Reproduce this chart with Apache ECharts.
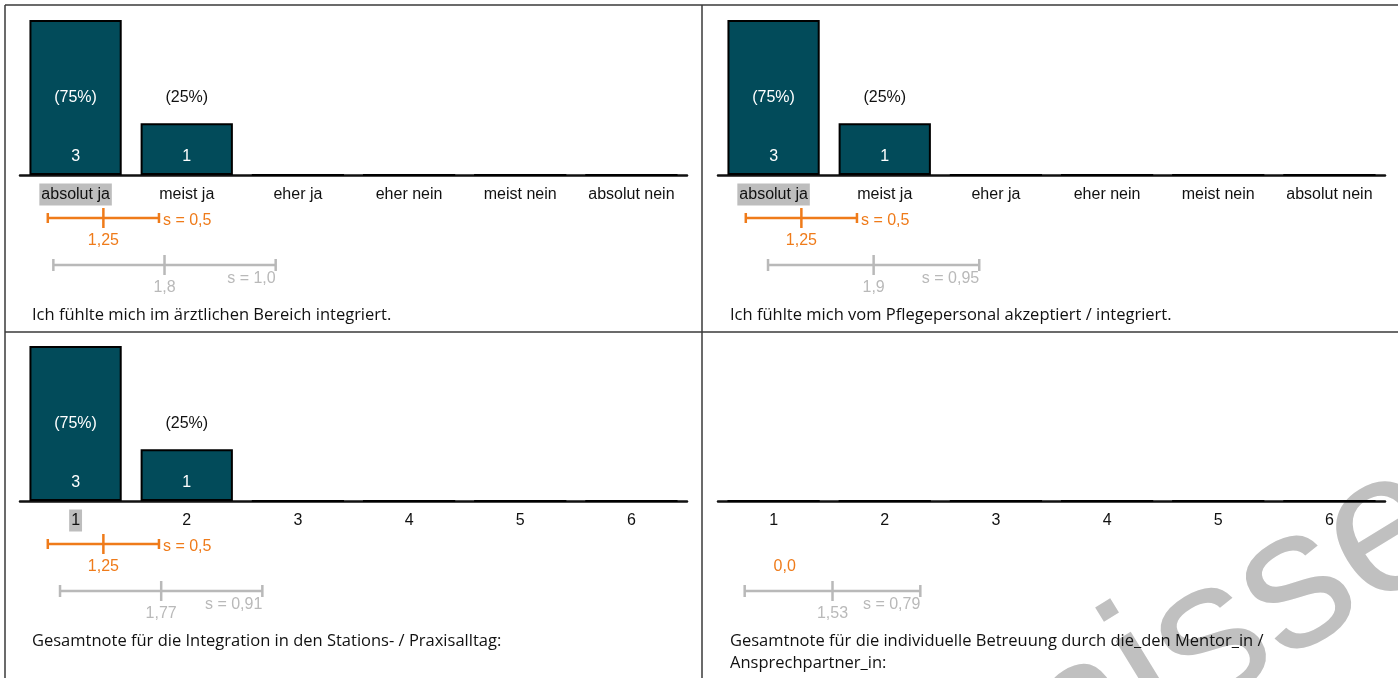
<!DOCTYPE html>
<html><head><meta charset="utf-8">
<script src="https://cdn.jsdelivr.net/npm/echarts@6/dist/echarts.min.js"></script>
<style>html,body{margin:0;padding:0;background:#fff}#c{width:1398px;height:678px}</style>
</head><body><div id="c"></div>
<script>
// ---- data ----
const answerCategories = ['absolut ja', 'meist ja', 'eher ja', 'eher nein', 'meist nein', 'absolut nein'];
const gradeCategories = ['1', '2', '3', '4', '5', '6'];
const countsArzt = [3, 1, 0, 0, 0, 0];
const countsPflege = [3, 1, 0, 0, 0, 0];
const countsIntegration = [3, 1, 0, 0, 0, 0];
const countsBetreuung = [0, 0, 0, 0, 0, 0];
const ownMeans = [1.25, 1.25, 1.25, 0.0];
const ownSds = [0.5, 0.5, 0.5, null];
const refMeans = [1.8, 1.9, 1.77, 1.53];
const refSds = [1.0, 0.95, 0.91, 0.79];
const questions = [
  'Ich fühlte mich im ärztlichen Bereich integriert.',
  'Ich fühlte mich vom Pflegepersonal akzeptiert / integriert.',
  'Gesamtnote für die Integration in den Stations- / Praxisalltag:',
  'Gesamtnote für die individuelle Betreuung durch die_den Mentor_in /\nAnsprechpartner_in:'
];
const watermarkText = 'Ergebnisse';

// ---- styling / layout ----
const panelCounts = [countsArzt, countsPflege, countsIntegration, countsBetreuung];
const panelCats = [answerCategories, answerCategories, gradeCategories, gradeCategories];
const offX = [0, 698, 0, 698];
const offY = [0, 0, 326, 326];
const BAR = '#024b5a', ORANGE = '#ef7b1a', GREY = '#b9b9b9';
const FONT = '"Liberation Sans", Arial, sans-serif';
const QFONT = '"Open Sans", "Noto Sans", sans-serif';
const FS = 16;
const YMAX = 3;

function fmt(v) {
  const r = Math.round(v * 10) === v * 10 ? v.toFixed(1) : v.toFixed(2);
  return r.replace('.', ',');
}

const grids = [], xAxes = [], yAxes = [], series = [], graphics = [];

for (let p = 0; p < 4; p++) {
  const counts = panelCounts[p];
  const total = counts.reduce((a, b) => a + b, 0);
  let hl = -1, best = 0;
  counts.forEach((c, i) => { if (c > best) { best = c; hl = i; } });

  grids.push({ left: 20 + offX[p], width: 667, top: 20 + offY[p], height: 155 });
  xAxes.push({
    type: 'category', gridIndex: p, data: panelCats[p],
    axisLine: { lineStyle: { color: '#111', width: 2.5 } },
    axisTick: { inside: true, length: 4, alignWithLabel: true, lineStyle: { color: '#000', width: 2 } },
    axisLabel: {
      margin: 10, interval: 0, color: '#111', fontFamily: FONT, fontSize: FS,
      formatter: (v, i) => (i === hl ? '{h|' + v + '}' : '{n|' + v + '}'),
      rich: {
        h: { backgroundColor: '#bdbdbd', padding: [3, 2, 3, 2], fontSize: FS, fontFamily: FONT, color: '#111', lineHeight: 19 },
        n: { padding: [3, 2, 3, 2], fontSize: FS, fontFamily: FONT, color: '#111', lineHeight: 19 }
      }
    },
    splitLine: { show: false }
  });
  xAxes.push({ type: 'value', gridIndex: p, min: 0.5, max: 6.5, show: false });
  yAxes.push({ type: 'value', gridIndex: p, min: 0, max: YMAX, show: false });

  const xCat = 2 * p, xVal = 2 * p + 1;
  series.push({
    type: 'bar', xAxisIndex: xCat, yAxisIndex: p, data: counts, barWidth: '83%', z: 2,
    itemStyle: { color: BAR, borderColor: '#000', borderWidth: 2 },
    label: {
      show: true, position: 'insideBottom', distance: 10, color: '#fff', fontSize: FS, fontFamily: FONT,
      formatter: (d) => (d.value > 0 ? String(d.value) : '')
    },
    silent: true, animation: false
  });
  series.push({
    type: 'custom', xAxisIndex: xCat, yAxisIndex: p, clip: false, animation: false, silent: true, z: 10,
    data: counts.map((c, i) => [i, c]),
    renderItem: (params, api) => {
      const i = api.value(0), c = api.value(1);
      if (!c) return null;
      const pt = api.coord([i, YMAX / 2]);
      return {
        type: 'text', x: pt[0], y: pt[1], z2: 10,
        style: {
          text: '(' + Math.round(c / total * 100) + '%)', fill: c > YMAX / 2 ? '#fff' : '#111',
          font: FS + 'px ' + FONT, textAlign: 'center', textVerticalAlign: 'middle'
        }
      };
    }
  });
  series.push({
    type: 'custom', xAxisIndex: xVal, yAxisIndex: p, clip: false, animation: false, silent: true, z: 10,
    data: [[ownMeans[p], ownSds[p] == null ? -1 : ownSds[p], 0], [refMeans[p], refSds[p], 1]],
    renderItem: (params, api) => {
      const m = api.value(0), s = api.value(1), row = api.value(2);
      const col = row === 0 ? ORANGE : GREY;
      const base = api.coord([1, 0]);
      const y = base[1] + (row === 0 ? 43 : 90);
      const lw = 2.5;
      if (s < 0) {
        return {
          type: 'text', x: base[0], y: y + 23,
          style: { text: fmt(m), fill: col, font: FS + 'px ' + FONT, textAlign: 'left', textVerticalAlign: 'middle' }
        };
      }
      const xl = api.coord([m - s, 0])[0], xr = api.coord([m + s, 0])[0], xm = api.coord([m, 0])[0];
      const cap = row === 0 ? 5 : 6;
      const ls = { stroke: col, lineWidth: lw };
      const ch = [
        { type: 'line', shape: { x1: xl, y1: y, x2: xr, y2: y }, style: ls },
        { type: 'line', shape: { x1: xl, y1: y - cap, x2: xl, y2: y + cap }, style: ls },
        { type: 'line', shape: { x1: xr, y1: y - cap, x2: xr, y2: y + cap }, style: ls },
        { type: 'line', shape: { x1: xm, y1: y - 10, x2: xm, y2: y + 10 }, style: ls },
        { type: 'text', x: xm, y: y + 23, style: { text: fmt(m), fill: col, font: FS + 'px ' + FONT, textAlign: 'center', textVerticalAlign: 'middle' } }
      ];
      if (row === 0) {
        ch.push({ type: 'text', x: xr + 4, y: y + 3, style: { text: 's = ' + fmt(s), fill: col, font: FS + 'px ' + FONT, textAlign: 'left', textVerticalAlign: 'middle' } });
      } else {
        ch.push({ type: 'text', x: xr, y: y + 14, style: { text: 's = ' + fmt(s), fill: col, font: FS + 'px ' + FONT, textAlign: 'right', textVerticalAlign: 'middle' } });
      }
      return { type: 'group', children: ch };
    }
  });

  graphics.push({
    type: 'text', left: 32 + offX[p], top: 304 + offY[p], z: 100,
    style: { text: questions[p], fill: '#111', font: '16.5px ' + QFONT, lineHeight: 22 }
  });
}

// watermark
graphics.unshift({
  type: 'text', x: 1434, y: 505, rotation: 0.55, z: -10, silent: true,
  style: { text: watermarkText, fill: '#c0c0c0', font: '200px ' + FONT, textAlign: 'right', textVerticalAlign: 'middle' }
});
// borders
const BC = '#3a3a3a';
[[5, 5, 1398, 5], [5, 5, 5, 678], [702, 5, 702, 678], [5, 332, 1398, 332]].forEach(l => {
  graphics.push({ type: 'line', z: 100, shape: { x1: l[0], y1: l[1], x2: l[2], y2: l[3] }, style: { stroke: BC, lineWidth: 1.5 } });
});

const chart = echarts.init(document.getElementById('c'), null, { renderer: 'canvas' });
chart.setOption({
  animation: false,
  backgroundColor: '#fff',
  grid: grids, xAxis: xAxes, yAxis: yAxes, series: series,
  graphic: { elements: graphics }
});
</script></body></html>
